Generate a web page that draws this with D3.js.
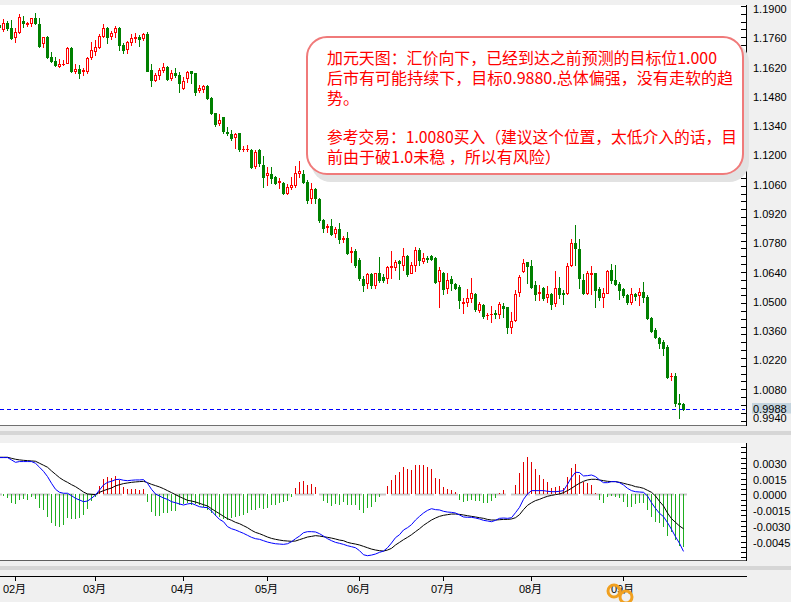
<!DOCTYPE html>
<html><head><meta charset="utf-8">
<script src="https://cdn.jsdelivr.net/npm/d3@7"></script>
<style>
html,body{margin:0;padding:0;background:#f0f0f0;}
svg{display:block;}
</style></head><body>
<svg id="chart" width="791" height="602"></svg>
<script>
// ---------- DATA ----------
const opens = [1.1824,1.1803,1.1832,1.1808,1.1765,1.1792,1.1844,1.1827,1.1835,1.1856,
1.1828,1.1739,1.1768,1.1669,1.1653,1.1629,1.1636,1.1643,1.1712,1.1605,
1.1613,1.1604,1.1604,1.1672,1.1701,1.1720,1.1771,1.1808,1.1772,1.1789,
1.1808,1.1728,1.1707,1.1744,1.1760,1.1765,1.1760,1.1781,1.1608,1.1561,
1.1585,1.1608,1.1624,1.1572,1.1593,1.1585,1.1521,1.1569,1.1604,1.1593,
1.1513,1.1516,1.1533,1.1473,1.1401,1.1354,1.1382,1.1314,1.1303,1.1287,
1.1306,1.1229,1.1229,1.1226,1.1150,1.1226,1.1154,1.1107,1.1111,1.1096,
1.1073,1.1070,1.1022,1.1051,1.1059,1.1115,1.1111,1.1075,1.0995,1.1038,
1.0990,1.0891,1.0857,1.0863,1.0828,1.0847,1.0802,1.0804,1.0738,1.0745,
1.0700,1.0609,1.0589,1.0633,1.0581,1.0637,1.0620,1.0613,1.0667,1.0668,
1.0694,1.0676,1.0719,1.0640,1.0676,1.0748,1.0697,1.0711,1.0719,1.0708,
1.0601,1.0640,1.0565,1.0608,1.0586,1.0573,1.0496,1.0501,1.0520,1.0536,
1.0461,1.0485,1.0436,1.0441,1.0445,1.0441,1.0480,1.0474,1.0381,1.0413,
1.0546,1.0648,1.0689,1.0672,1.0581,1.0541,1.0565,1.0525,1.0536,1.0493,
1.0565,1.0544,1.0541,1.0676,1.0783,1.0751,1.0605,1.0544,1.0635,1.0637,
1.0560,1.0525,1.0544,1.0652,1.0605,1.0586,1.0560,1.0533,1.0498,1.0536,
1.0533,1.0546,1.0525,1.0422,1.0366,1.0326,1.0310,1.0286,1.0144,1.0146,
1.0015,1.0012];
const highs = [1.1833,1.1851,1.1844,1.1847,1.1808,1.1875,1.1867,1.1839,1.1858,1.1879,
1.1856,1.1768,1.1771,1.1693,1.1672,1.1660,1.1656,1.1720,1.1717,1.1637,
1.1632,1.1617,1.1669,1.1741,1.1752,1.1779,1.1828,1.1815,1.1796,1.1819,
1.1813,1.1739,1.1749,1.1779,1.1784,1.1776,1.1787,1.1792,1.1637,1.1593,
1.1619,1.1640,1.1628,1.1608,1.1617,1.1600,1.1574,1.1605,1.1606,1.1596,
1.1537,1.1537,1.1537,1.1478,1.1404,1.1397,1.1385,1.1337,1.1322,1.1309,
1.1309,1.1245,1.1250,1.1229,1.1226,1.1229,1.1197,1.1143,1.1146,1.1102,
1.1091,1.1075,1.1064,1.1096,1.1150,1.1175,1.1130,1.1083,1.1067,1.1043,
1.0995,1.0895,1.0872,1.0895,1.0859,1.0876,1.0815,1.0836,1.0764,1.0751,
1.0708,1.0624,1.0640,1.0637,1.0640,1.0713,1.0633,1.0673,1.0745,1.0700,
1.0700,1.0756,1.0724,1.0692,1.0761,1.0756,1.0732,1.0721,1.0724,1.0713,
1.0668,1.0644,1.0637,1.0624,1.0592,1.0581,1.0517,1.0560,1.0613,1.0541,
1.0499,1.0490,1.0448,1.0480,1.0461,1.0501,1.0493,1.0477,1.0453,1.0557,
1.0629,1.0704,1.0692,1.0700,1.0601,1.0581,1.0570,1.0576,1.0541,1.0648,
1.0618,1.0557,1.0684,1.0799,1.0868,1.0799,1.0633,1.0649,1.0672,1.0640,
1.0570,1.0565,1.0652,1.0681,1.0676,1.0597,1.0565,1.0538,1.0565,1.0541,
1.0565,1.0597,1.0533,1.0429,1.0374,1.0334,1.0318,1.0294,1.0159,1.0159,
1.0060,1.0015];
const lows = [1.1804,1.1796,1.1800,1.1755,1.1744,1.1784,1.1815,1.1819,1.1819,1.1828,
1.1720,1.1720,1.1664,1.1648,1.1629,1.1624,1.1634,1.1640,1.1599,1.1596,
1.1572,1.1583,1.1596,1.1661,1.1680,1.1712,1.1765,1.1739,1.1755,1.1768,
1.1704,1.1688,1.1688,1.1728,1.1744,1.1723,1.1752,1.1602,1.1533,1.1556,
1.1564,1.1600,1.1561,1.1561,1.1574,1.1505,1.1516,1.1552,1.1548,1.1491,
1.1505,1.1505,1.1468,1.1398,1.1341,1.1346,1.1309,1.1298,1.1274,1.1234,
1.1221,1.1223,1.1223,1.1141,1.1139,1.1150,1.1051,1.1059,1.1067,1.1062,
1.1043,1.1014,1.1014,1.1038,1.1051,1.1096,1.1070,1.0971,1.0974,1.0971,
1.0883,1.0836,1.0836,1.0820,1.0809,1.0783,1.0788,1.0729,1.0692,1.0668,
1.0605,1.0553,1.0568,1.0565,1.0568,1.0597,1.0597,1.0592,1.0613,1.0652,
1.0609,1.0652,1.0625,1.0637,1.0649,1.0676,1.0687,1.0692,1.0700,1.0592,
1.0477,1.0536,1.0544,1.0557,1.0560,1.0469,1.0448,1.0480,1.0501,1.0458,
1.0452,1.0422,1.0417,1.0405,1.0422,1.0422,1.0429,1.0350,1.0350,1.0410,
1.0530,1.0644,1.0592,1.0565,1.0509,1.0509,1.0509,1.0501,1.0465,1.0480,
1.0520,1.0490,1.0536,1.0673,1.0676,1.0565,1.0536,1.0538,1.0538,1.0477,
1.0509,1.0477,1.0541,1.0589,1.0581,1.0512,1.0525,1.0490,1.0490,1.0509,
1.0485,1.0501,1.0417,1.0358,1.0329,1.0278,1.0246,1.0135,1.0127,1.0000,
0.9944,0.9985];
const closes = [1.1814,1.1832,1.1808,1.1760,1.1792,1.1860,1.1832,1.1832,1.1856,1.1832,
1.1723,1.1765,1.1669,1.1653,1.1632,1.1637,1.1639,1.1712,1.1604,1.1612,
1.1593,1.1608,1.1664,1.1704,1.1717,1.1771,1.1808,1.1768,1.1784,1.1808,
1.1728,1.1704,1.1741,1.1760,1.1765,1.1755,1.1781,1.1605,1.1561,1.1583,
1.1608,1.1621,1.1567,1.1593,1.1583,1.1545,1.1557,1.1600,1.1593,1.1505,
1.1521,1.1532,1.1476,1.1404,1.1350,1.1369,1.1317,1.1309,1.1282,1.1303,
1.1229,1.1232,1.1232,1.1146,1.1218,1.1162,1.1098,1.1115,1.1091,1.1070,
1.1079,1.1019,1.1051,1.1059,1.1115,1.1127,1.1075,1.0987,1.1038,1.0995,
1.0891,1.0852,1.0863,1.0825,1.0847,1.0801,1.0807,1.0735,1.0743,1.0676,
1.0613,1.0581,1.0633,1.0581,1.0637,1.0605,1.0605,1.0668,1.0672,1.0691,
1.0687,1.0719,1.0632,1.0676,1.0748,1.0700,1.0708,1.0704,1.0704,1.0597,
1.0652,1.0560,1.0605,1.0589,1.0568,1.0509,1.0501,1.0520,1.0541,1.0465,
1.0490,1.0433,1.0439,1.0444,1.0441,1.0488,1.0469,1.0379,1.0409,1.0536,
1.0618,1.0684,1.0673,1.0573,1.0536,1.0549,1.0517,1.0538,1.0490,1.0565,
1.0538,1.0538,1.0672,1.0780,1.0756,1.0613,1.0541,1.0637,1.0640,1.0557,
1.0522,1.0544,1.0648,1.0605,1.0586,1.0557,1.0533,1.0501,1.0536,1.0528,
1.0546,1.0525,1.0422,1.0362,1.0334,1.0305,1.0278,1.0142,1.0147,1.0015,
1.0010,0.9988];

const macdLine = [0.00350,0.00350,0.00350,0.00328,0.00305,0.00312,0.00312,0.00312,0.00312,0.00296,
0.00258,0.00219,0.00169,0.00105,0.00048,0.00019,0.00010,0.00010,-0.00013,-0.00038,
-0.00054,-0.00070,-0.00064,-0.00038,-0.00006,0.00041,0.00089,0.00114,0.00124,0.00140,
0.00143,0.00134,0.00130,0.00134,0.00137,0.00137,0.00140,0.00105,0.00048,0.00003,
-0.00016,-0.00035,-0.00048,-0.00070,-0.00080,-0.00092,-0.00102,-0.00092,-0.00086,-0.00102,
-0.00118,-0.00124,-0.00127,-0.00159,-0.00200,-0.00239,-0.00261,-0.00308,-0.00328,-0.00340,
-0.00356,-0.00372,-0.00391,-0.00410,-0.00423,-0.00429,-0.00442,-0.00455,-0.00464,-0.00471,
-0.00474,-0.00477,-0.00471,-0.00452,-0.00423,-0.00398,-0.00366,-0.00356,-0.00356,-0.00359,
-0.00375,-0.00398,-0.00423,-0.00442,-0.00458,-0.00467,-0.00477,-0.00490,-0.00499,-0.00509,
-0.00537,-0.00576,-0.00585,-0.00579,-0.00569,-0.00553,-0.00541,-0.00509,-0.00464,-0.00413,
-0.00385,-0.00340,-0.00318,-0.00289,-0.00245,-0.00210,-0.00178,-0.00153,-0.00137,-0.00146,
-0.00149,-0.00162,-0.00169,-0.00172,-0.00178,-0.00197,-0.00216,-0.00219,-0.00219,-0.00226,
-0.00235,-0.00248,-0.00254,-0.00261,-0.00248,-0.00229,-0.00226,-0.00229,-0.00223,-0.00175,
-0.00124,-0.00048,0.00003,0.00035,0.00035,0.00035,0.00035,0.00029,0.00025,0.00025,
0.00029,0.00035,0.00095,0.00162,0.00210,0.00207,0.00175,0.00178,0.00184,0.00169,
0.00137,0.00111,0.00111,0.00121,0.00121,0.00111,0.00089,0.00057,0.00035,0.00025,
0.00022,0.00019,-0.00016,-0.00080,-0.00134,-0.00181,-0.00213,-0.00270,-0.00334,-0.00404,
-0.00467,-0.00544];
const signalLine = [0.00353,0.00353,0.00353,0.00343,0.00334,0.00328,0.00324,0.00321,0.00318,0.00315,
0.00296,0.00277,0.00258,0.00223,0.00191,0.00159,0.00134,0.00114,0.00092,0.00073,
0.00048,0.00022,0.00003,0.00000,-0.00003,0.00019,0.00035,0.00048,0.00060,0.00080,
0.00092,0.00102,0.00108,0.00114,0.00118,0.00121,0.00124,0.00111,0.00095,0.00083,
0.00070,0.00054,0.00035,0.00016,-0.00003,-0.00022,-0.00040,-0.00057,-0.00064,-0.00073,
-0.00086,-0.00099,-0.00111,-0.00137,-0.00162,-0.00184,-0.00210,-0.00232,-0.00248,-0.00267,
-0.00280,-0.00299,-0.00318,-0.00343,-0.00363,-0.00375,-0.00391,-0.00407,-0.00420,-0.00429,
-0.00436,-0.00442,-0.00445,-0.00448,-0.00445,-0.00432,-0.00420,-0.00407,-0.00401,-0.00394,
-0.00398,-0.00404,-0.00410,-0.00417,-0.00426,-0.00436,-0.00442,-0.00458,-0.00467,-0.00474,
-0.00483,-0.00496,-0.00509,-0.00522,-0.00531,-0.00537,-0.00541,-0.00531,-0.00515,-0.00483,
-0.00458,-0.00432,-0.00410,-0.00385,-0.00356,-0.00328,-0.00296,-0.00270,-0.00245,-0.00226,
-0.00210,-0.00200,-0.00194,-0.00188,-0.00188,-0.00191,-0.00197,-0.00204,-0.00210,-0.00216,
-0.00223,-0.00229,-0.00239,-0.00245,-0.00245,-0.00242,-0.00239,-0.00239,-0.00235,-0.00223,
-0.00194,-0.00146,-0.00105,-0.00080,-0.00060,-0.00048,-0.00032,-0.00019,-0.00010,-0.00003,
0.00003,0.00016,0.00035,0.00057,0.00083,0.00105,0.00124,0.00137,0.00143,0.00143,
0.00137,0.00130,0.00124,0.00121,0.00121,0.00114,0.00105,0.00095,0.00086,0.00073,
0.00067,0.00057,0.00038,0.00019,-0.00016,-0.00067,-0.00111,-0.00178,-0.00232,-0.00267,
-0.00302,-0.00328];
const histogram = [-0.00005,-0.00016,-0.00038,-0.00080,-0.00092,-0.00054,-0.00048,-0.00054,-0.00029,-0.00048,
-0.00134,-0.00150,-0.00219,-0.00270,-0.00299,-0.00308,-0.00293,-0.00223,-0.00239,-0.00239,
-0.00229,-0.00197,-0.00140,-0.00064,-0.00022,0.00080,0.00143,0.00162,0.00159,0.00175,
0.00137,0.00073,0.00048,0.00048,0.00048,0.00041,0.00048,-0.00070,-0.00165,-0.00207,
-0.00207,-0.00181,-0.00175,-0.00159,-0.00156,-0.00102,-0.00092,-0.00086,-0.00102,-0.00092,
-0.00102,-0.00118,-0.00150,-0.00181,-0.00207,-0.00219,-0.00239,-0.00245,-0.00229,-0.00213,
-0.00207,-0.00197,-0.00181,-0.00150,-0.00150,-0.00134,-0.00143,-0.00134,-0.00102,-0.00102,
-0.00086,-0.00070,-0.00060,-0.00022,0.00057,0.00121,0.00130,0.00089,0.00099,0.00073,
0.00001,-0.00064,-0.00086,-0.00108,-0.00092,-0.00102,-0.00076,-0.00102,-0.00102,-0.00102,
-0.00150,-0.00175,-0.00134,-0.00118,-0.00070,-0.00029,0.00001,0.00080,0.00137,0.00184,
0.00216,0.00264,0.00238,0.00232,0.00280,0.00280,0.00280,0.00264,0.00238,0.00153,
0.00143,0.00073,0.00048,0.00041,0.00019,-0.00054,-0.00070,-0.00064,-0.00054,-0.00064,
-0.00064,-0.00080,-0.00080,-0.00064,-0.00038,0.00016,0.00041,0.00001,0.00001,0.00089,
0.00207,0.00305,0.00353,0.00305,0.00239,0.00184,0.00143,0.00114,0.00057,0.00073,
0.00083,0.00057,0.00162,0.00248,0.00289,0.00184,0.00121,0.00105,0.00089,0.00016,
-0.00054,-0.00080,-0.00029,-0.00016,-0.00029,-0.00038,-0.00070,-0.00118,-0.00118,-0.00095,
-0.00086,-0.00086,-0.00150,-0.00219,-0.00261,-0.00277,-0.00315,-0.00400,-0.00360,-0.00440,
-0.00490,-0.00500];

const priceTickLabels = [1.1900,1.1760,1.1620,1.1480,1.1340,1.1200,1.1060,1.0920,1.0780,1.0640,1.0500,1.0360,1.0220,1.0080,0.9940];
const macdTickLabels = [0.0030,0.0015,0.0000,-0.0015,-0.0030,-0.0045];
const monthNames = ["02月","03月","04月","05月","06月","07月","08月","09月"];
const monthFirstBar = [4,24,46,67,90,111,133,156];
const lastPrice = 0.9988;
const noteLines = [
  "加元天图：汇价向下，已经到达之前预测的目标位1.000",
  "后市有可能持续下，目标0.9880.总体偏强，没有走软的趋",
  "势。",
  "",
  "参考交易：1.0080买入（建议这个位置，太低介入的话，目",
  "前由于破1.0未稳 ，所以有风险）"
];

// ---------- LAYOUT ----------
const svg = d3.select("#chart");
const W = 791, H = 602;
const plotRight = 746;
const mainTop = 5, mainBottom = 425;
const macdTop = 443, macdBottom = 560;
const N = closes.length;

const x = d3.scaleLinear().domain([0, N - 1]).range([-1, 683]);
const y = d3.scaleLinear().domain([0.99115, 1.19191]).range([mainBottom, mainTop]);
const ym = d3.scaleLinear().domain([-0.00626, 0.00489]).range([macdBottom, macdTop]);

const col = i => Math.round(x(i));
const AXIS_FONT = "'Liberation Sans', 'Noto Sans CJK SC', sans-serif";

// background
svg.append("rect").attr("width", W).attr("height", H).attr("fill", "#f0f0f0");
// panels
svg.append("rect").attr("x", 0).attr("y", mainTop).attr("width", plotRight).attr("height", mainBottom - mainTop).attr("fill", "#fff");
svg.append("rect").attr("x", 0).attr("y", macdTop).attr("width", plotRight).attr("height", macdBottom - macdTop).attr("fill", "#fff");

const defs = svg.append("defs");
defs.append("clipPath").attr("id", "clipMain").append("rect")
  .attr("x", 0).attr("y", mainTop).attr("width", plotRight).attr("height", mainBottom - mainTop);
defs.append("clipPath").attr("id", "clipMacd").append("rect")
  .attr("x", 0).attr("y", macdTop).attr("width", plotRight).attr("height", macdBottom - macdTop);

// ---------- CANDLES ----------
const gMain = svg.append("g").attr("clip-path", "url(#clipMain)");
const idx = d3.range(N);
const UP = "#ff0000", DOWN = "#008000";

idx.forEach(i => {
  const o = opens[i], h = highs[i], l = lows[i], c = closes[i];
  const up = c >= o;
  const color = up ? UP : DOWN;
  const cx = col(i) + 0.5;
  const yH = Math.round(y(h)), yL = Math.round(y(l));
  const yTop = Math.round(y(Math.max(o, c))), yBot = Math.round(y(Math.min(o, c)));
  gMain.append("line").attr("x1", cx).attr("x2", cx).attr("y1", yH).attr("y2", yL + 1)
    .attr("stroke", color).attr("stroke-width", 1);
  if (yBot - yTop < 1) {
    gMain.append("line").attr("x1", cx - 1.5).attr("x2", cx + 1.5).attr("y1", yTop + 0.5).attr("y2", yTop + 0.5)
      .attr("stroke", color).attr("stroke-width", 1);
  } else if (up) {
    gMain.append("rect").attr("x", cx - 1).attr("y", yTop + 0.5).attr("width", 2).attr("height", yBot - yTop)
      .attr("fill", "#fff").attr("stroke", color).attr("stroke-width", 1);
  } else {
    gMain.append("rect").attr("x", cx - 1.5).attr("y", yTop).attr("width", 3).attr("height", yBot - yTop + 1)
      .attr("fill", color);
  }
});

// last price dashed line
const yLast = Math.round(y(lastPrice)) + 0.5;
svg.append("line").attr("x1", 0).attr("x2", plotRight - 1).attr("y1", yLast).attr("y2", yLast)
  .attr("stroke", "#0000ff").attr("stroke-width", 1).attr("stroke-dasharray", "4,3");

// main panel border lines
svg.append("line").attr("x1", 0).attr("x2", plotRight + 1).attr("y1", mainBottom + 0.5).attr("y2", mainBottom + 0.5).attr("stroke", "#707070");
svg.append("line").attr("x1", plotRight + 0.5).attr("x2", plotRight + 0.5).attr("y1", mainTop).attr("y2", mainBottom + 1).attr("stroke", "#000");

// price axis minor ticks
const priceMinor = d3.range(1.1915, 0.9912, -0.00374);
svg.append("g").selectAll("line").data(priceMinor).join("line")
  .attr("x1", plotRight - 5).attr("x2", plotRight)
  .attr("y1", d => Math.round(y(d)) + 0.5).attr("y2", d => Math.round(y(d)) + 0.5)
  .attr("stroke", "#000");

// price labels
svg.append("g").selectAll("text").data(priceTickLabels).join("text")
  .attr("x", 753)
  .attr("y", d => Math.min(Math.max(y(d), 7), 418) + 4)
  .attr("font-family", AXIS_FONT).attr("font-size", 11).attr("fill", "#000")
  .text(d => d.toFixed(4));

// last price tag
svg.append("rect").attr("x", 752).attr("y", yLast - 6.5).attr("width", 39).attr("height", 10.5).attr("fill", "#c4d4de");
svg.append("text").attr("x", 753).attr("y", yLast + 3.5).attr("font-family", AXIS_FONT).attr("font-size", 11)
  .attr("fill", "#000").text(lastPrice.toFixed(4));

// ---------- ANNOTATION BOX ----------
const box = {x: 307, y: 37, w: 436, h: 137, r: 20};
svg.append("rect").attr("x", box.x + 4).attr("y", box.y + 5).attr("width", box.w + 2).attr("height", box.h + 3)
  .attr("rx", box.r).attr("fill", "#e2e2e2");
svg.append("rect").attr("x", box.x).attr("y", box.y).attr("width", box.w).attr("height", box.h)
  .attr("rx", box.r).attr("fill", "#fff").attr("stroke", "#f07a7a").attr("stroke-width", 2);
const lineWidths = [390, 406, null, null, 410, null];
svg.append("g").selectAll("text").data(noteLines).join("text")
  .attr("x", 327).attr("y", (d, i) => 64 + i * 19.8)
  .attr("font-family", "'Noto Sans CJK SC', sans-serif").attr("font-size", 16).attr("fill", "#ff0000")
  .each(function(d, i) {
    if (lineWidths[i]) d3.select(this).attr("textLength", lineWidths[i]).attr("lengthAdjust", "spacingAndGlyphs");
  })
  .text(d => d);

// ---------- SEPARATORS ----------
svg.append("rect").attr("x", 0).attr("y", 431).attr("width", W).attr("height", 4).attr("fill", "#d6d6d6");
svg.append("line").attr("x1", 0).attr("x2", plotRight + 1).attr("y1", macdBottom + 0.5).attr("y2", macdBottom + 0.5).attr("stroke", "#606060");
svg.append("rect").attr("x", 0).attr("y", 566).attr("width", W).attr("height", 4).attr("fill", "#d6d6d6");

// ---------- MACD ----------
const gM = svg.append("g").attr("clip-path", "url(#clipMacd)");
const y0 = Math.round(ym(0));
gM.append("line").attr("x1", 0).attr("x2", col(N - 1) + 4).attr("y1", y0 + 0.5).attr("y2", y0 + 0.5)
  .attr("stroke", "#c8c8c8").attr("stroke-width", 2).attr("stroke-dasharray", "19,5").attr("stroke-dashoffset", 17);

gM.selectAll("rect.h").data(idx).join("rect").attr("class", "h")
  .attr("x", i => col(i))
  .attr("width", 1)
  .attr("y", i => histogram[i] >= 0 ? Math.round(ym(histogram[i])) : y0)
  .attr("height", i => Math.abs(Math.round(ym(histogram[i])) - y0))
  .attr("fill", i => histogram[i] >= 0 ? "#e00000" : "#1fae1f");

gM.append("path").datum(idx).attr("d", d3.line().x(i => col(i) + 0.5).y(i => ym(signalLine[i])))
  .attr("fill", "none").attr("stroke", "#000").attr("stroke-width", 1);
gM.append("path").datum(idx).attr("d", d3.line().x(i => col(i) + 0.5).y(i => ym(macdLine[i])))
  .attr("fill", "none").attr("stroke", "#0000ff").attr("stroke-width", 1);

// macd axis
svg.append("line").attr("x1", plotRight + 0.5).attr("x2", plotRight + 0.5).attr("y1", macdTop).attr("y2", macdBottom + 1).attr("stroke", "#000");
const macdMinor = d3.range(-0.0060, 0.0049, 0.0005);
svg.append("g").selectAll("line").data(macdMinor).join("line")
  .attr("x1", plotRight - 5).attr("x2", plotRight)
  .attr("y1", d => Math.round(ym(d)) + 0.5).attr("y2", d => Math.round(ym(d)) + 0.5)
  .attr("stroke", "#000");
svg.append("g").selectAll("text").data(macdTickLabels).join("text")
  .attr("x", 753).attr("y", d => ym(d) + 5)
  .attr("font-family", AXIS_FONT).attr("font-size", 11).attr("fill", "#000")
  .text(d => (d === 0 ? 0 : d).toFixed(4));

// ---------- TIME AXIS ----------
svg.append("line").attr("x1", 0).attr("x2", plotRight + 1).attr("y1", 576.5).attr("y2", 576.5).attr("stroke", "#000");
const gT = svg.append("g");
monthFirstBar.forEach((b, k) => {
  const tx = col(b) + 0.5;
  gT.append("line").attr("x1", tx).attr("x2", tx).attr("y1", 576).attr("y2", 581).attr("stroke", "#000");
  gT.append("text").attr("x", tx - 1).attr("y", 593).attr("text-anchor", "middle")
    .attr("font-family", AXIS_FONT).attr("font-size", 11).attr("fill", "#000").text(monthNames[k]);
});
// watermark rings near the last month label
gT.append("circle").attr("cx", 614).attr("cy", 591).attr("r", 6).attr("fill", "none").attr("stroke", "#f0a020").attr("stroke-width", 3);
gT.append("circle").attr("cx", 626).attr("cy", 597).attr("r", 6).attr("fill", "none").attr("stroke", "#f0a020").attr("stroke-width", 3);
</script>
</body></html>
